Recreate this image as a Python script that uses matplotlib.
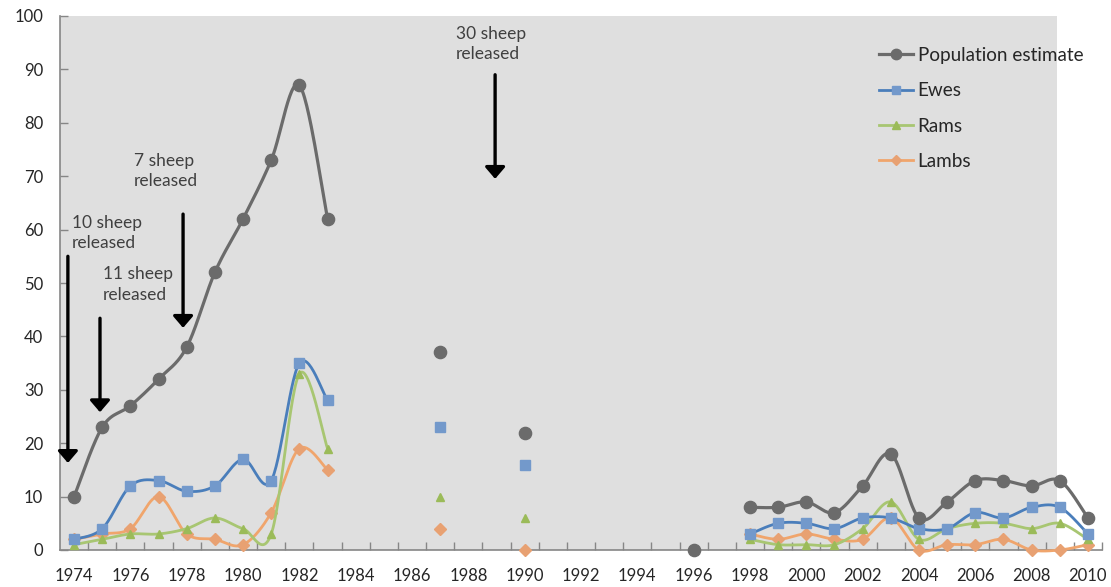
import numpy as np
import matplotlib
matplotlib.use("Agg")
import matplotlib.pyplot as plt
from matplotlib.lines import Line2D
from matplotlib.patches import Rectangle

plt.rcParams["font.family"] = ["Lato", "DejaVu Sans"]

# Survey years and counts (None = not surveyed for that group)
years = [1974, 1975, 1976, 1977, 1978, 1979, 1980, 1981, 1982, 1983,
         1987, 1990, 1996,
         1998, 1999, 2000, 2001, 2002, 2003, 2004, 2005, 2006, 2007, 2008, 2009, 2010]
population = [10, 23, 27, 32, 38, 52, 62, 73, 87, 62,
              37, 22, 0,
              8, 8, 9, 7, 12, 18, 6, 9, 13, 13, 12, 13, 6]
ewes = [2, 4, 12, 13, 11, 12, 17, 13, 35, 28,
        23, 16, None,
        3, 5, 5, 4, 6, 6, 4, 4, 7, 6, 8, 8, 3]
rams = [1, 2, 3, 3, 4, 6, 4, 3, 33, 19,
        10, 6, None,
        2, 1, 1, 1, 4, 9, 2, 4, 5, 5, 4, 5, 2]
lambs = [2, 3, 4, 10, 3, 2, 1, 7, 19, 15,
         4, 0, None,
         3, 2, 3, 2, 2, 6, 0, 1, 1, 2, 0, 0, 1]

series_names = ["Population estimate", "Ewes", "Rams", "Lambs"]
x_tick_years = list(range(1974, 2011, 2))
y_ticks = list(range(0, 101, 10))

# Release events: (label, arrow x, arrow top, arrow tip, text x, text top)
releases = [
    ("10 sheep\nreleased", 1973.78, 55.0, 16.3, 1973.93, 62.8),
    ("11 sheep\nreleased", 1974.92, 43.4, 25.8, 1975.03, 53.1),
    ("7 sheep\nreleased", 1977.87, 62.9, 41.6, 1976.13, 74.4),
    ("30 sheep\nreleased", 1988.95, 89.0, 69.5, 1987.56, 98.2),
]

styles = [
    dict(line="#6b6b6b", face="#6b6b6b", marker="o", ms=8.8, lw=2.3),
    dict(line="#4a7ebb", face="#7399cb", marker="s", ms=6.5, lw=2.0),
    dict(line="#a8c672", face="#9bbb59", marker="^", ms=6.0, lw=2.0),
    dict(line="#f0a56c", face="#e8a172", marker="D", ms=5.8, lw=2.0),
]


def smooth(xs, ys, n=30):
    """Catmull-Rom style smoothing through the points (cubic Bezier pieces)."""
    xs = np.asarray(xs, float)
    ys = np.asarray(ys, float)
    if len(xs) < 3:
        return xs, ys
    px = np.concatenate([[xs[0]], xs, [xs[-1]]])
    py = np.concatenate([[ys[0]], ys, [ys[-1]]])
    outx, outy = [], []
    t = np.linspace(0, 1, n)
    for i in range(1, len(px) - 2):
        p0 = np.array([px[i], py[i]])
        p3 = np.array([px[i + 1], py[i + 1]])
        p1 = p0 + (np.array([px[i + 1], py[i + 1]]) - np.array([px[i - 1], py[i - 1]])) / 6
        p2 = p3 - (np.array([px[i + 2], py[i + 2]]) - np.array([px[i], py[i]])) / 6
        b = ((1 - t) ** 3)[:, None] * p0 + (3 * (1 - t) ** 2 * t)[:, None] * p1 \
            + (3 * (1 - t) * t ** 2)[:, None] * p2 + (t ** 3)[:, None] * p3
        outx.append(b[:, 0])
        outy.append(b[:, 1])
    return np.concatenate(outx), np.concatenate(outy)


def runs(xs, ys):
    """Split observations into runs of consecutive years."""
    pts = [(x, y) for x, y in zip(xs, ys) if y is not None]
    groups, cur = [], []
    for x, y in pts:
        if cur and x - cur[-1][0] != 1:
            groups.append(cur)
            cur = []
        cur.append((x, y))
    if cur:
        groups.append(cur)
    return groups


fig = plt.figure(figsize=(11.11, 5.87), dpi=100)
ax = fig.add_axes([60 / 1111, 1 - 550 / 587, 1042 / 1111, 534 / 587])
ax.set_facecolor("none")
fig.patch.set_facecolor("white")

# gray plot panel
ax.add_patch(Rectangle((0, 0), 0.957, 1.0, transform=ax.transAxes,
                       facecolor="#dfdfdf", edgecolor="none", zorder=0))

all_values = [population, ewes, rams, lambs]
# draw smaller groups first so the population line sits on top
for idx in [3, 2, 1, 0]:
    vals = all_values[idx]
    st = styles[idx]
    for grp in runs(years, vals):
        gx = [g[0] for g in grp]
        gy = [g[1] for g in grp]
        if len(gx) > 1:
            sx, sy = smooth(gx, gy)
            ax.plot(sx, sy, color=st["line"], lw=st["lw"], zorder=3 + (3 - idx),
                    solid_capstyle="round", clip_on=False)
        ax.plot(gx, gy, linestyle="none", marker=st["marker"], ms=st["ms"],
                color=st["face"], markeredgecolor=st["face"], zorder=4 + (3 - idx),
                clip_on=False)

for label, xa, ytop, ytip, tx, ty in releases:
    ax.annotate("", xy=(xa, ytip), xytext=(xa, ytop),
                arrowprops=dict(arrowstyle="-|>,head_length=0.35,head_width=0.3",
                                lw=2.4, color="black", shrinkA=0, shrinkB=0,
                                mutation_scale=20), zorder=8)
    ax.text(tx, ty, label, fontsize=12.5, color="#404040", ha="left", va="top",
            linespacing=1.32, zorder=8)

ax.set_xlim(1973.5, 2010.5)
ax.set_ylim(0, 100)
ax.set_yticks(y_ticks)
ax.set_yticklabels([str(v) for v in y_ticks], fontsize=12, color="#262626")
ax.set_xticks(np.arange(1974.5, 2010.6, 1.0))
ax.set_xticklabels([])
ax.set_xticks(x_tick_years, minor=True)
ax.set_xticklabels([str(v) for v in x_tick_years], minor=True, fontsize=12,
                   color="#262626")
ax.tick_params(axis="x", which="major", direction="in", length=6, color="#868686", width=1)
ax.tick_params(axis="x", which="minor", length=0, pad=13)
ax.tick_params(axis="y", direction="in", length=6, color="#868686", width=1, pad=12)
for s in ["top", "right"]:
    ax.spines[s].set_visible(False)
for s in ["left", "bottom"]:
    ax.spines[s].set_color("#868686")
    ax.spines[s].set_linewidth(1.2)

handles = [Line2D([], [], color=st["line"], lw=st["lw"], marker=st["marker"],
                  ms=st["ms"] * 0.85, markerfacecolor=st["face"],
                  markeredgecolor=st["face"]) for st in styles]
fig.legend(handles, series_names, loc="upper left",
           bbox_to_anchor=(862 / 1111, 1 - 30 / 587), frameon=False,
           fontsize=13.6, handlelength=1.8, handletextpad=0.25, labelspacing=0.97,
           labelcolor="#262626")

fig.savefig("out.png", dpi=100, facecolor="white")
